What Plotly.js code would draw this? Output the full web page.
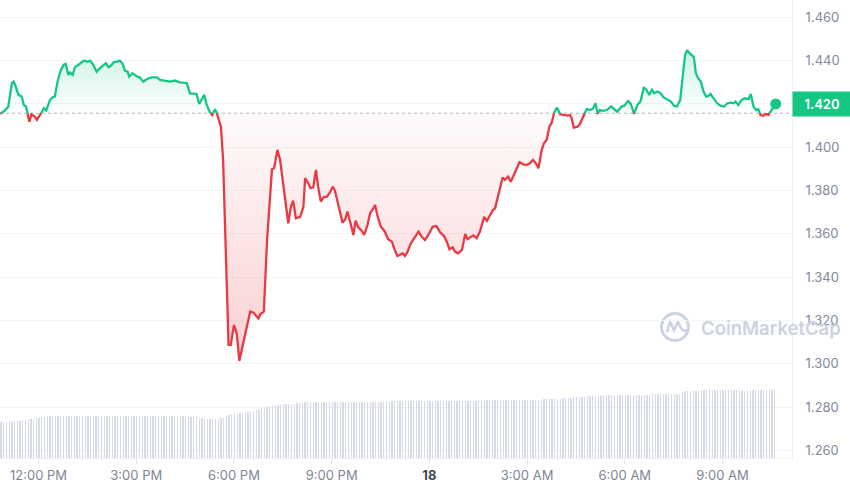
<!DOCTYPE html>
<html><head><meta charset="utf-8">
<script src="https://cdn.plot.ly/plotly-3.0.1.min.js"></script>
<style>html,body{margin:0;padding:0;background:#fff}#chart{width:850px;height:491px}</style>
</head><body><div id="chart"></div>
<script>
// ---------- DATA ----------
const startTime = Date.UTC(2024, 0, 17, 10, 49);   // first sample of the 24h window
const axisEndMinutes = 1459;                          // x-axis extends a little past the last sample
const minuteOffsets = [
0,6,15,22,25,28,34,40,44,48,
54,58,64,68,74,77,81,85,92,97,
101,106,111,117,121,126,129,134,138,144,
151,155,161,166,172,178,184,190,195,200,
204,210,215,221,226,230,235,238,244,251,
257,264,270,279,289,295,304,313,322,332,
344,350,362,367,376,381,386,391,396,399,
407,411,416,421,425,431,436,441,448,461,
467,476,480,486,492,501,505,511,516,522,
531,536,540,545,553,559,562,568,572,577,
582,586,591,596,602,607,613,617,623,631,
636,640,645,651,655,660,666,671,677,682,
687,691,695,701,709,715,722,726,732,737,
742,746,750,757,765,771,777,783,789,797,
804,811,818,823,828,834,838,844,851,857,
861,867,872,878,884,892,897,903,908,912,
918,926,930,936,941,949,957,964,970,976,
982,987,992,998,1002,1007,1012,1016,1021,1026,
1032,1038,1045,1050,1053,1057,1064,1068,1073,1081,
1086,1092,1097,1101,1105,1111,1118,1126,1131,1137,
1145,1150,1157,1162,1168,1174,1180,1186,1191,1196,
1201,1205,1211,1217,1222,1228,1236,1242,1247,1253,
1258,1262,1266,1270,1274,1278,1282,1286,1291,1296,
1301,1305,1309,1315,1321,1328,1334,1340,1346,1351,
1355,1360,1366,1372,1379,1383,1388,1393,1397,1401,
1406,1411,1415,1422,1429];
const prices = [
1.4154,1.4164,1.4185,1.4296,1.4303,1.4288,1.4242,1.4234,1.4195,1.4188,
1.4118,1.4152,1.4141,1.4126,1.4149,1.4164,1.4180,1.4169,1.4218,1.4231,
1.4234,1.4303,1.4349,1.4380,1.4385,1.4334,1.4345,1.4334,1.4370,1.4380,
1.4395,1.4400,1.4395,1.4400,1.4380,1.4349,1.4365,1.4380,1.4388,1.4370,
1.4376,1.4394,1.4394,1.4400,1.4385,1.4354,1.4349,1.4326,1.4342,1.4329,
1.4323,1.4303,1.4314,1.4323,1.4323,1.4311,1.4308,1.4303,1.4308,1.4300,
1.4296,1.4249,1.4246,1.4200,1.4242,1.4195,1.4164,1.4149,1.4176,1.4160,
1.4095,1.3941,1.3541,1.3087,1.3087,1.3179,1.3141,1.3014,1.3095,1.3241,
1.3236,1.3210,1.3230,1.3241,1.3572,1.3898,1.3903,1.3988,1.3941,1.3818,
1.3649,1.3726,1.3753,1.3672,1.3679,1.3726,1.3857,1.3834,1.3811,1.3815,
1.3895,1.3818,1.3749,1.3769,1.3772,1.3788,1.3818,1.3800,1.3741,1.3652,
1.3667,1.3703,1.3656,1.3595,1.3661,1.3630,1.3615,1.3595,1.3641,1.3698,
1.3714,1.3733,1.3687,1.3636,1.3610,1.3575,1.3564,1.3533,1.3498,1.3503,
1.3510,1.3498,1.3513,1.3557,1.3590,1.3610,1.3587,1.3572,1.3595,1.3633,
1.3636,1.3606,1.3590,1.3564,1.3529,1.3538,1.3518,1.3510,1.3526,1.3600,
1.3575,1.3587,1.3593,1.3580,1.3610,1.3679,1.3660,1.3687,1.3710,1.3718,
1.3780,1.3860,1.3849,1.3864,1.3841,1.3887,1.3931,1.3921,1.3918,1.3926,
1.3941,1.3926,1.3903,1.3988,1.4018,1.4034,1.4095,1.4111,1.4160,1.4183,
1.4152,1.4149,1.4146,1.4149,1.4134,1.4091,1.4095,1.4106,1.4134,1.4177,
1.4172,1.4177,1.4203,1.4154,1.4172,1.4168,1.4172,1.4188,1.4177,1.4164,
1.4188,1.4192,1.4214,1.4200,1.4154,1.4195,1.4212,1.4277,1.4265,1.4242,
1.4265,1.4249,1.4257,1.4249,1.4231,1.4222,1.4211,1.4191,1.4188,1.4218,
1.4334,1.4426,1.4449,1.4434,1.4426,1.4418,1.4342,1.4319,1.4303,1.4257,
1.4234,1.4237,1.4246,1.4226,1.4203,1.4191,1.4188,1.4203,1.4206,1.4203,
1.4211,1.4195,1.4218,1.4226,1.4222,1.4246,1.4188,1.4172,1.4176,1.4149,
1.4145,1.4154,1.4149,1.4172,1.4200];
const basePrice = 1.4157;          // opening price of the window (dotted reference line)
const lastPriceLabel = '1.420';
const volumeStepMinutes = 5;
const volumeMillions = [
91,91,91,92,91,91,92,92,
94,95,96,97,98,99,100,
103,103,104,104,104,104,104,105,
105,105,105,106,106,106,106,106,106,106,106,106,106,106,106,106,106,106,106,106,106,106,106,106,106,106,106,106,106,106,106,106,106,106,106,106,106,106,106,106,106,106,105,105,
104,104,103,103,102,102,101,
99,98,98,98,98,98,98,99,101,
106,108,109,110,111,112,
114,115,116,117,118,119,120,
124,126,128,129,130,131,
132,133,134,135,135,136,136,137,137,
138,139,139,139,140,140,140,140,140,140,140,140,140,140,140,140,140,140,140,140,140,140,140,140,140,140,141,141,141,141,141,141,141,
142,142,142,142,142,142,142,142,142,142,142,142,142,142,142,142,
143,143,143,143,143,143,143,143,143,143,143,143,143,143,143,143,
144,144,144,144,144,144,144,144,144,144,144,144,144,144,144,144,
145,145,145,146,146,146,146,146,147,147,147,147,147,147,148,
150,150,151,151,152,152,152,153,153,154,154,155,155,156,156,
157,157,157,157,157,157,157,157,157,157,157,157,157,157,
158,158,158,158,159,159,159,159,159,160,160,160,160,160,160,
166,167,168,168,168,168,168,169,169,169,169,169,169,169,169,169,169,169,169,169,169,169,168,168,168,169,169,169,169,169,169,169,169,169,169];
const xTickTimes = ['2024-01-17 12:00','2024-01-17 15:00','2024-01-17 18:00','2024-01-17 21:00',
                    '2024-01-18 00:00','2024-01-18 03:00','2024-01-18 06:00','2024-01-18 09:00'];
const xTickLabels = ['12:00 PM','3:00 PM','6:00 PM','9:00 PM','<b><span style="color:#3d4656">18</span></b>','3:00 AM','6:00 AM','9:00 AM'];
const yTickValues = [1.26,1.28,1.30,1.32,1.34,1.36,1.38,1.40,1.42,1.44,1.46];

// ---------- BUILD ----------
const GREEN = '#16c784', RED = '#ea3943';
const t = minuteOffsets.map(m => startTime + m * 60000);
const X = [], Y = [];
for (let i = 0; i < prices.length; i++) {
  if (i > 0) {
    const a = prices[i-1] - basePrice, b = prices[i] - basePrice;
    if ((a > 0 && b < 0) || (a < 0 && b > 0)) {
      const f = a / (a - b);
      X.push(t[i-1] + f * (t[i] - t[i-1])); Y.push(basePrice);
    }
  }
  X.push(t[i]); Y.push(prices[i]);
}
const baseLine = X.map(() => basePrice);
const upFill = Y.map(v => Math.max(v, basePrice));
const dnFill = Y.map(v => Math.min(v, basePrice));
const greenLine = Y.map(v => v >= basePrice ? v : null);
const redLine = Y.map(v => v <= basePrice ? v : null);
const volTimes = volumeMillions.map((v, i) => startTime + (i * volumeStepMinutes + 2) * 60000);

const traces = [
  {x: X, y: baseLine, mode: 'lines', line: {width: 0}, hoverinfo: 'skip'},
  {x: X, y: upFill, mode: 'lines', line: {width: 0}, fill: 'tonexty',
   fillcolor: 'rgba(22,199,132,0.1)',
   fillgradient: {type: 'vertical', colorscale: [[0, 'rgba(22,199,132,0.0)'], [1, 'rgba(22,199,132,0.22)']]},
   hoverinfo: 'skip'},
  {x: X, y: baseLine, mode: 'lines', line: {width: 0}, hoverinfo: 'skip'},
  {x: X, y: dnFill, mode: 'lines', line: {width: 0}, fill: 'tonexty',
   fillcolor: 'rgba(234,57,67,0.1)',
   fillgradient: {type: 'vertical', colorscale: [[0, 'rgba(234,57,67,0.24)'], [1, 'rgba(234,57,67,0.02)']]},
   hoverinfo: 'skip'},
  {x: volTimes, y: volumeMillions, type: 'bar', yaxis: 'y2',
   width: 60000 * 2.2, marker: {color: 'rgba(196,203,223,0.7)', line: {width: 0}}, hoverinfo: 'skip'},
  {x: X, y: greenLine, mode: 'lines', line: {color: GREEN, width: 2.3}, connectgaps: false, hoverinfo: 'skip'},
  {x: X, y: redLine, mode: 'lines', line: {color: RED, width: 2.3}, connectgaps: false, hoverinfo: 'skip'},
  {x: [t[t.length-1]], y: [prices[prices.length-1]], mode: 'markers',
   marker: {color: GREEN, size: 11}, hoverinfo: 'skip', cliponaxis: false}
];

const WM = '#cbd2e1';
const layout = {
  width: 850, height: 491,
  margin: {l: 0, r: 58, t: 0, b: 33},
  paper_bgcolor: '#ffffff', plot_bgcolor: '#ffffff',
  showlegend: false, hovermode: false, bargap: 0,
  font: {family: 'Inter, Roboto, sans-serif', size: 13, color: '#808a9d'},
  xaxis: {
    type: 'date', range: [startTime, startTime + axisEndMinutes * 60000],
    tickvals: xTickTimes, ticktext: xTickLabels,
    showgrid: false, zeroline: false, showline: true, linecolor: '#eff2f5',
    ticks: 'outside', ticklen: 5, tickcolor: '#e3e6eb',
    tickfont: {size: 13, color: '#7d8697'}, fixedrange: true
  },
  yaxis: {
    side: 'right', range: [1.2565, 1.468], tickvals: yTickValues, tickformat: '.3f',
    showgrid: true, gridcolor: '#f3f4f6', zeroline: false,
    showline: true, linecolor: '#eff2f5', ticks: '', ticklabelstandoff: 10,
    tickfont: {size: 13, color: '#808a9d'}, fixedrange: true
  },
  yaxis2: {overlaying: 'y', range: [0, 1145], visible: false, fixedrange: true},
  shapes: [
    {type: 'line', xref: 'paper', x0: 0, x1: 1, yref: 'y', y0: basePrice, y1: basePrice,
     line: {color: '#aeb4bf', width: 1.2, dash: 'dot'}, layer: 'below'},
    {type: 'circle', xref: 'paper', xsizemode: 'pixel', xanchor: 675/792, x0: -13.5, x1: 13.5,
     yref: 'paper', ysizemode: 'pixel', yanchor: (458-327)/458, y0: -13.5, y1: 13.5,
     line: {color: WM, width: 3}, layer: 'below'},
    {type: 'path', xref: 'paper', xsizemode: 'pixel', xanchor: 675/792,
     yref: 'paper', ysizemode: 'pixel', yanchor: (458-327)/458,
     path: 'M -8 -5 L -5 5 L -1 -3 L 3 5 L 6 -1 Q 8 -5 12 -3',
     line: {color: WM, width: 2.6}, layer: 'below'}
  ],
  annotations: [
    {xref: 'paper', x: 1, xanchor: 'left', yref: 'y', y: 1.42, yanchor: 'middle',
     text: lastPriceLabel, showarrow: false, bgcolor: GREEN, width: 54, height: 20, borderpad: 2,
     font: {color: '#ffffff', size: 13, weight: 600}},
    {xref: 'paper', x: 699/792, xanchor: 'left', yref: 'paper', y: (458-328)/458, yanchor: 'middle',
     text: 'CoinMarketCap', showarrow: false,
     font: {color: WM, size: 18.5, weight: 600, family: 'Inter, Roboto, sans-serif'}}
  ]
};

Plotly.newPlot('chart', traces, layout, {displayModeBar: false, staticPlot: true});
</script>
</body></html>
